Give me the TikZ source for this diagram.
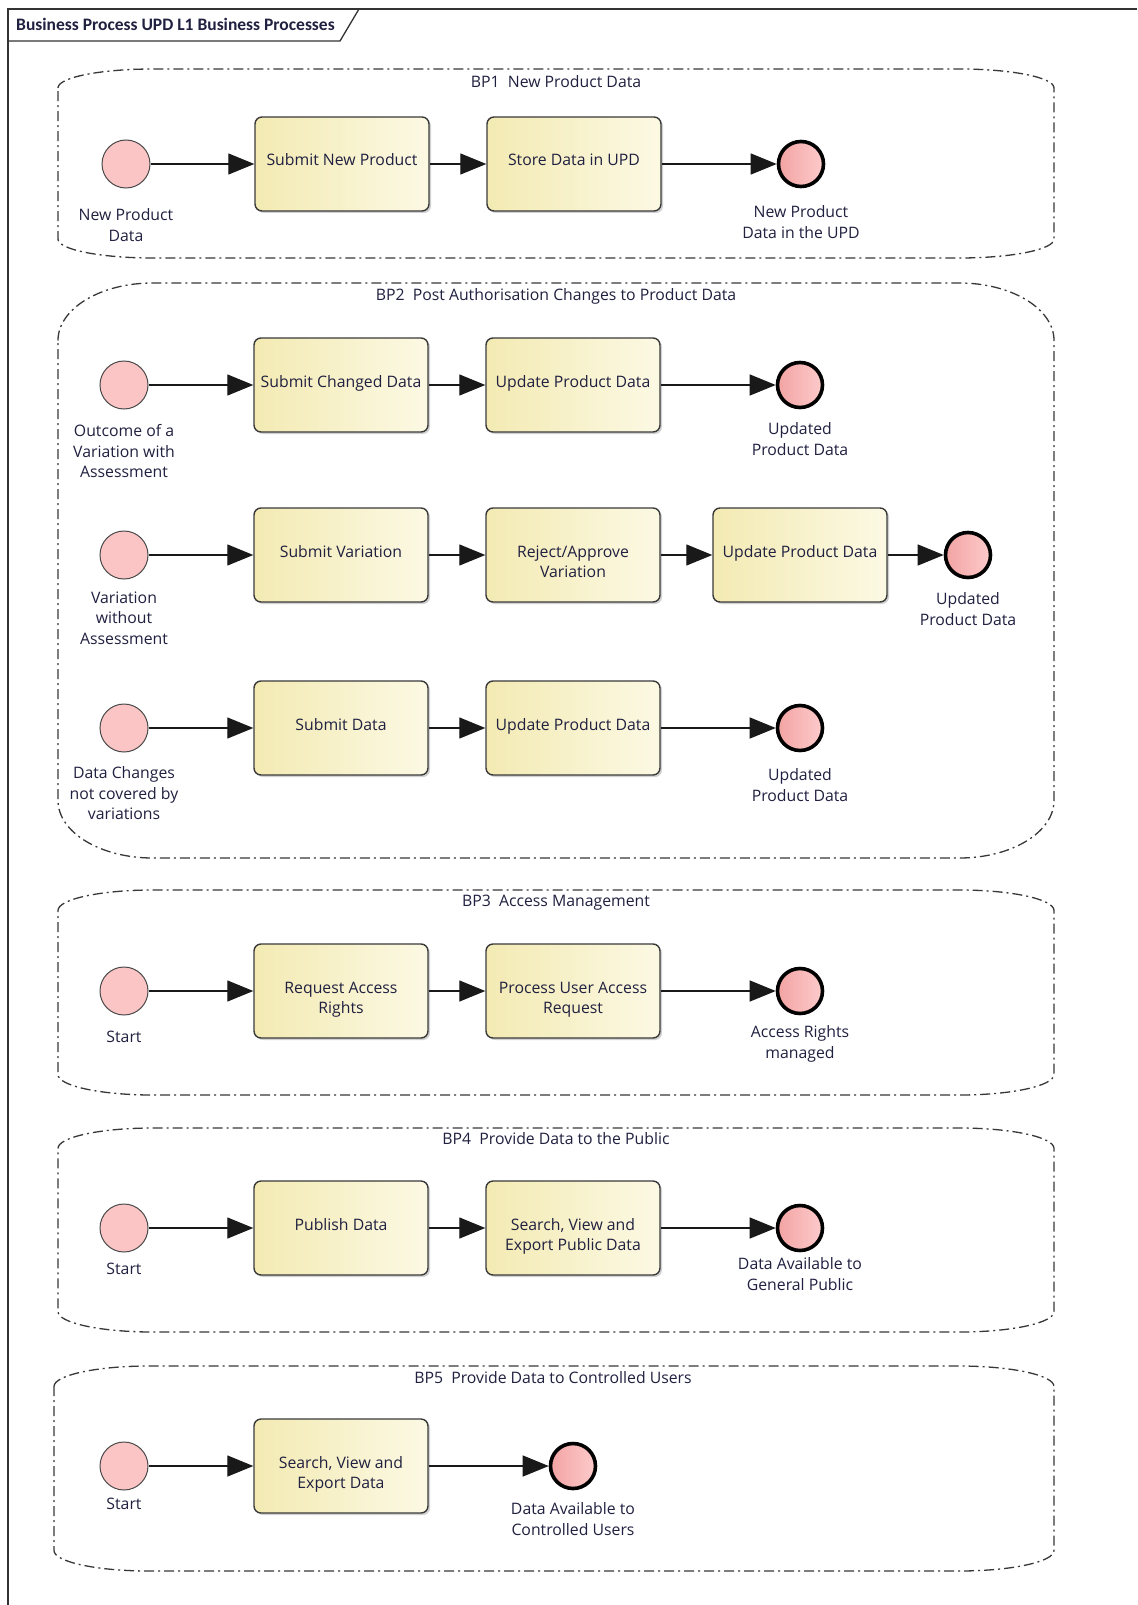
\documentclass[tikz,border=0pt]{standalone}
\usepackage{fontspec}
\setmainfont{Open Sans}
\newfontfamily\framefont{Carlito}
\usetikzlibrary{arrows.meta, positioning, shadows}
\definecolor{ink}{HTML}{202040}
\definecolor{startfill}{HTML}{FBC5C5}
\definecolor{startline}{HTML}{4A4A4A}
\definecolor{endleft}{HTML}{F3A3A3}
\definecolor{endright}{HTML}{FDCBCB}
\definecolor{taskleft}{HTML}{F3EAB3}
\definecolor{taskright}{HTML}{FCF9E4}
\definecolor{taskline}{HTML}{3A3A3A}
\definecolor{grpline}{HTML}{383838}
\tikzset{
x=1pt, y=-1pt, % one unit = one pixel of the reference, y downwards
>={Triangle[length=26pt, width=21pt]}, % big filled flow heads
txt/.style={font=\fontsize{15.8}{20.5}\selectfont, text=ink},
start/.style={circle, draw=startline, line width=1pt, fill=startfill, minimum size=48pt, inner sep=0pt},
finish/.style={circle, draw=black, line width=3.6pt, left color=endleft, right color=endright, minimum size=45pt, inner sep=0pt},
task/.style={txt, rectangle, rounded corners=7pt, draw=taskline, line width=1.4pt,
  left color=taskleft, right color=taskright, minimum width=174pt, minimum height=94pt,
  inner xsep=2pt, align=center, text height=12pt, text depth=8pt,
  drop shadow={shadow xshift=2pt, shadow yshift=-2pt, fill=black, opacity=0.18}},
task2/.style={task, text height=45pt, text depth=0pt}, % two lines, first line where a single line sits
evlabel/.style={txt, align=center, inner sep=0pt, anchor=north}, % labels under the events
grptitle/.style={txt, inner sep=0pt},
grp/.style={draw=grpline, line width=1.3pt, dash pattern=on 10pt off 4pt on 2pt off 4pt},
flow/.style={->, draw=black!90, line width=1.3pt},
}
% dash-dot group box with elliptic corners: left, top, right, bottom
\newcommand{\bparea}[4]{%
  \pgfmathsetmacro{\bprx}{0.095*(#3-#1)}%
  \pgfmathsetmacro{\bpry}{0.1*(#4-#2)}%
  \draw[grp] (#1,#2+\bpry) .. controls (#1,#2+0.448*\bpry) and (#1+0.448*\bprx,#2) .. (#1+\bprx,#2)
    -- (#3-\bprx,#2) .. controls (#3-0.448*\bprx,#2) and (#3,#2+0.448*\bpry) .. (#3,#2+\bpry)
    -- (#3,#4-\bpry) .. controls (#3,#4-0.448*\bpry) and (#3-0.448*\bprx,#4) .. (#3-\bprx,#4)
    -- (#1+\bprx,#4) .. controls (#1+0.448*\bprx,#4) and (#1,#4-0.448*\bpry) .. (#1,#4-\bpry)
    -- cycle;%
}

\begin{document}
\begin{tikzpicture}
    \fill[white] (0,0) rectangle (1137,1605);
    \useasboundingbox (0,0) rectangle (1137,1605);
    % diagram frame
    \draw[line width=1.3pt, draw=black!80] (8,1605) -- (8,9) -- (1137,9);
    \draw[line width=1.3pt, draw=black!80] (8,41) -- (340,41) -- (359,9);
    \node[anchor=west, inner sep=0pt, font=\framefont\bfseries\fontsize{17.5}{20}\selectfont, text=ink] (frame) at (16,24) {Business Process UPD L1 Business Processes};

    % BP1
    \bparea{58}{69}{1054}{258}
    \node[grptitle] (bp1) at (556,82) {BP1~~New Product Data};
    \node[start] (s1) at (126,164) {};
    \node[task] (t11) at (342,164) {Submit New Product};
    \node[task] (t12) at (574,164) {Store Data in UPD};
    \node[finish] (e1) at (801,164) {};
    \node[evlabel] (s1l) at ([yshift=-20pt]s1.south) {New Product\\Data};
    \node[evlabel] (e1l) at ([yshift=-17pt]e1.south) {New Product\\Data in the UPD};
    \draw[flow] (s1) -- (t11);
    \draw[flow] (t11) -- (t12);
    \draw[flow] (t12) -- (e1);

    % BP2
    \bparea{58}{283}{1054}{858}
    \node[grptitle] (bp2) at (556,296) {BP2~~Post Authorisation Changes to Product Data};
    \node[start] (s21) at (124,385) {};
    \node[task] (t211) at (341,385) {Submit Changed Data};
    \node[task] (t212) at (573,385) {Update Product Data};
    \node[finish] (e21) at (800,385) {};
    \node[evlabel] (s21l) at ([yshift=-15pt]s21.south) {Outcome of a\\Variation with\\Assessment};
    \node[evlabel] (e21l) at ([yshift=-13pt]e21.south) {Updated\\Product Data};
    \draw[flow] (s21) -- (t211);
    \draw[flow] (t211) -- (t212);
    \draw[flow] (t212) -- (e21);

    \node[start] (s22) at (124,555) {};
    \node[task] (t221) at (341,555) {Submit Variation};
    \node[task2] (t222) at (573,555) {Reject/Approve\\Variation};
    \node[task] (t223) at (800,555) {Update Product Data};
    \node[finish] (e22) at (968,555) {};
    \node[evlabel] (s22l) at ([yshift=-12pt]s22.south) {Variation\\without\\Assessment};
    \node[evlabel] (e22l) at ([yshift=-13pt]e22.south) {Updated\\Product Data};
    \draw[flow] (s22) -- (t221);
    \draw[flow] (t221) -- (t222);
    \draw[flow] (t222) -- (t223);
    \draw[flow] (t223) -- (e22);

    \node[start] (s23) at (124,728) {};
    \node[task] (t231) at (341,728) {Submit Data};
    \node[task] (t232) at (573,728) {Update Product Data};
    \node[finish] (e23) at (800,728) {};
    \node[evlabel] (s23l) at ([yshift=-14pt]s23.south) {Data Changes\\not covered by\\variations};
    \node[evlabel] (e23l) at ([yshift=-16pt]e23.south) {Updated\\Product Data};
    \draw[flow] (s23) -- (t231);
    \draw[flow] (t231) -- (t232);
    \draw[flow] (t232) -- (e23);

    % BP3
    \bparea{58}{890}{1054}{1095}
    \node[grptitle] (bp3) at (556,903) {BP3~~Access Management};
    \node[start] (s3) at (124,991) {};
    \node[task2] (t31) at (341,991) {Request Access\\Rights};
    \node[task2] (t32) at (573,991) {Process User Access\\Request};
    \node[finish] (e3) at (800,991) {};
    \node[evlabel] (s3l) at ([yshift=-15pt]s3.south) {Start};
    \node[evlabel] (e3l) at ([yshift=-10pt]e3.south) {Access Rights\\managed};
    \draw[flow] (s3) -- (t31);
    \draw[flow] (t31) -- (t32);
    \draw[flow] (t32) -- (e3);

    % BP4
    \bparea{58}{1128}{1054}{1332}
    \node[grptitle] (bp4) at (556,1139) {BP4~~Provide Data to the Public};
    \node[start] (s4) at (124,1228) {};
    \node[task] (t41) at (341,1228) {Publish Data};
    \node[task2] (t42) at (573,1228) {Search, View and\\Export Public Data};
    \node[finish] (e4) at (800,1228) {};
    \node[evlabel] (s4l) at ([yshift=-10pt]s4.south) {Start};
    \node[evlabel] (e4l) at ([yshift=-5pt]e4.south) {Data Available to\\General Public};
    \draw[flow] (s4) -- (t41);
    \draw[flow] (t41) -- (t42);
    \draw[flow] (t42) -- (e4);

    % BP5
    \bparea{54}{1366}{1054}{1571}
    \node[grptitle] (bp5) at (553,1378) {BP5~~Provide Data to Controlled Users};
    \node[start] (s5) at (124,1466) {};
    \node[task2] (t51) at (341,1466) {Search, View and\\Export Data};
    \node[finish] (e5) at (573,1466) {};
    \node[evlabel] (s5l) at ([yshift=-7pt]s5.south) {Start};
    \node[evlabel] (e5l) at ([yshift=-12pt]e5.south) {Data Available to\\Controlled Users};
    \draw[flow] (s5) -- (t51);
    \draw[flow] (t51) -- (e5);
\end{tikzpicture}
\end{document}
